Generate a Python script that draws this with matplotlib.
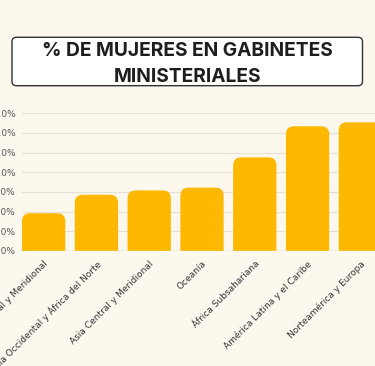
import matplotlib.pyplot as plt
import numpy as np
from matplotlib.patches import FancyBboxPatch
from matplotlib.ticker import FuncFormatter

regiones = ["Asia Oriental y Meridional", "Asia Occidental y África del Norte",
            "Asia Central y Meridional", "Oceanía", "África Subsahariana",
            "América Latina y el Caribe", "Norteamérica y Europa"]
porcentajes = [9.6, 14.3, 15.4, 16.1, 23.8, 31.7, 32.7]
yticks = [0, 5, 10, 15, 20, 25, 30, 35]

bg = "#FCF8EE"
amarillo = "#FFB800"

W, H = 375, 366
fig = plt.figure(figsize=(W / 100, H / 100), dpi=100, facecolor=bg)

# axes run past the right edge, like the cropped original
x0, x1 = 22, 382
y0, y1 = 251, 113.3
ax = fig.add_axes([x0 / W, 1 - y0 / H, (x1 - x0) / W, (y0 - y1) / H])
ax.set_facecolor(bg)
ax.set_xlim(-0.41, len(regiones) - 1 + 0.41)
ax.set_ylim(0, 35)

px_x = (x1 - x0) / (len(regiones) - 1 + 0.82)
px_y = (y0 - y1) / 35
r = 8 / px_x
aspect = px_x / px_y
ancho = 0.82

for i, v in enumerate(porcentajes):
    ry = r * aspect
    p = FancyBboxPatch((i - ancho / 2, -ry), ancho, v + ry,
                       boxstyle=f"round,pad=0,rounding_size={r}",
                       mutation_aspect=aspect, fc=amarillo, ec="none",
                       zorder=3, clip_on=True)
    ax.add_patch(p)

ax.set_yticks(yticks)
ax.yaxis.set_major_formatter(FuncFormatter(lambda v, _: f"{v:.1f}%"))
ax.grid(axis="y", color="#E6E1D6", lw=0.9, zorder=0)
ax.axhline(0, color="#D6D2CA", lw=1, zorder=4)
for s in ax.spines.values():
    s.set_visible(False)
ax.tick_params(axis="y", length=0, pad=4.5, labelsize=6.5, labelcolor="#555555")
ax.tick_params(axis="x", length=0, pad=6)
ax.set_xticks(range(len(regiones)))
ax.set_xticklabels(regiones, rotation=45, ha="right", rotation_mode="anchor",
                   fontsize=6.5, color="#333333")

# title box
caja = FancyBboxPatch((12 / W, 1 - 85.7 / H), 350.5 / W, 48.4 / H,
                      boxstyle="round,pad=0,rounding_size=0.012",
                      transform=fig.transFigure, fc="white", ec="#333333",
                      lw=1.0, mutation_aspect=H / W)
fig.patches.append(caja)
fig.text(187.5 / W, 1 - 64 / H, "% DE MUJERES EN GABINETES\nMINISTERIALES",
         ha="center", va="center", fontsize=13.8, fontweight="bold",
         family=["Inter", "DejaVu Sans"], color="#1E1E1E", linespacing=1.5)

fig.savefig("out.png", dpi=100, facecolor=bg)
